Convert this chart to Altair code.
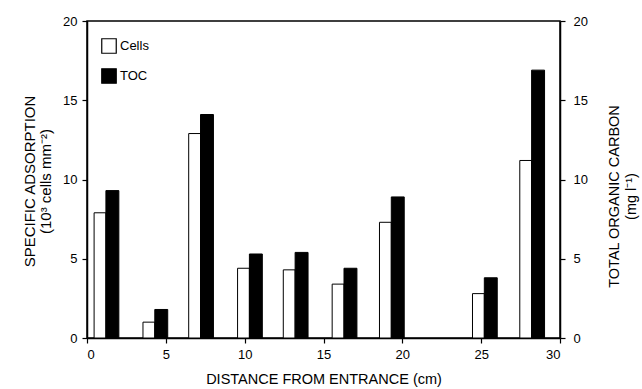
import altair as alt
import pandas as pd

# Data
distance = [1.2, 4.3, 7.2, 10.3, 13.2, 16.3, 19.3, 25.2, 28.2]
cells = [7.9, 1.0, 12.9, 4.4, 4.3, 3.4, 7.3, 2.8, 11.2]
toc = [9.3, 1.8, 14.1, 5.3, 5.4, 4.4, 8.9, 3.8, 16.9]
series_names = ["Cells", "TOC"]
x_ticks = [0, 5, 10, 15, 20, 25, 30]
y_ticks = [0, 5, 10, 15, 20]

rows = []
for d, c, t in zip(distance, cells, toc):
    rows.append({"distance": d, "series": "Cells", "value": c})
    rows.append({"distance": d, "series": "TOC", "value": t})
df = pd.DataFrame(rows)

FONT = "Liberation Sans"

base = alt.Chart(df).transform_calculate(
    x0="datum.series == 'Cells' ? datum.distance - 0.75 : datum.distance",
    x1="datum.series == 'Cells' ? datum.distance : datum.distance + 0.82",
)

xenc = alt.X(
    "x0:Q",
    scale=alt.Scale(domain=[0, 30], nice=False, zero=False),
    axis=alt.Axis(
        values=x_ticks, title="DISTANCE FROM ENTRANCE (cm)", grid=False,
        titleX=236.5, titleY=41, titleBaseline="middle", titleAlign="center",
        titleFontSize=14.5,
    ),
)
fill = alt.Fill(
    "series:N",
    scale=alt.Scale(domain=series_names, range=["white", "black"]),
    legend=alt.Legend(
        title=None, orient="none", legendX=14, legendY=17,
        symbolType="square", symbolSize=210, symbolStrokeColor="black",
        symbolStrokeWidth=1.2, rowPadding=10, labelFontSize=13, labelFont=FONT,
        labelOffset=3, labelColor="black",
    ),
)

left = base.transform_filter("datum.series == 'Cells'").mark_bar(
    stroke="black", strokeWidth=1
).encode(
    x=xenc,
    x2="x1:Q",
    y=alt.Y(
        "value:Q",
        scale=alt.Scale(domain=[0, 20], nice=False),
        axis=alt.Axis(
            values=y_ticks, grid=False, orient="left",
            title=["SPECIFIC ADSORPTION", "(10\u00b3 cells mm\u207b\u00b2)"],
            titleAngle=270, titleX=-65, titleY=160, titleAlign="center",
            titleBaseline="top", titleLineHeight=16, titleFontSize=15,
        ),
    ),
    y2=alt.datum(0),
    fill=fill,
)

right = base.transform_filter("datum.series == 'TOC'").mark_bar(
    stroke="black", strokeWidth=1
).encode(
    x=xenc,
    x2="x1:Q",
    y=alt.Y(
        "value:Q",
        scale=alt.Scale(domain=[0, 20], nice=False),
        axis=alt.Axis(
            values=y_ticks, grid=False, orient="right",
            title=["TOTAL ORGANIC CARBON", "(mg l\u207b\u00b9)"],
            titleAngle=270, titleX=47, titleY=175, titleAlign="center",
            titleBaseline="top", titleLineHeight=17, labelPadding=8,
            titleFontSize=14.5,
        ),
    ),
    y2=alt.datum(0),
    fill=fill,
)

chart = alt.layer(left, right).resolve_scale(y="independent").properties(
    width=473, height=317,
    autosize=alt.AutoSizeParams(type="none"),
    padding={"left": 87, "top": 21, "right": 82, "bottom": 51},
    background="white",
).configure_view(
    stroke="black", strokeWidth=1.5
).configure_axis(
    domainColor="black", domainWidth=1.5, tickColor="black", tickSize=5,
    tickWidth=1.2, labelFont=FONT, labelFontSize=13, labelColor="black",
    titleFont=FONT, titleFontSize=14, titleFontWeight="normal", titleColor="black",
    labelPadding=5,
)

chart.save("out.html", embed_options={"renderer": "svg", "actions": False})
